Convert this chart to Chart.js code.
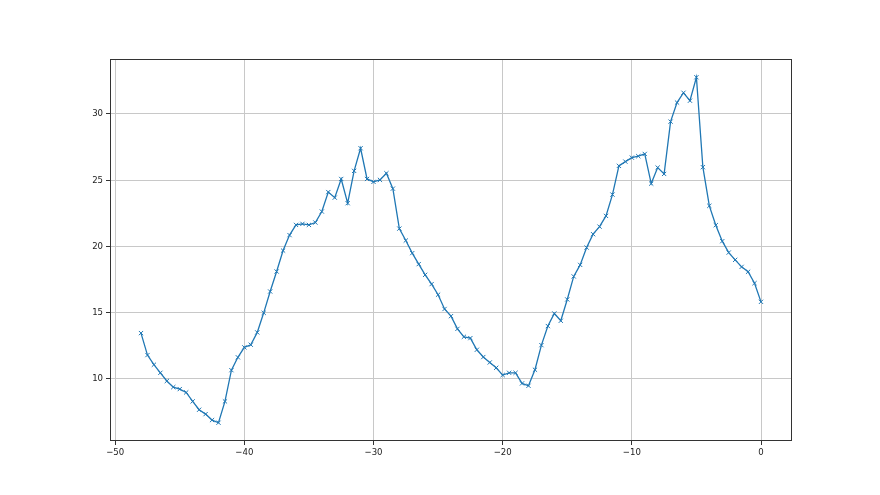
<!DOCTYPE html>
<html>
<head>
<meta charset="utf-8">
<script src="https://cdn.jsdelivr.net/npm/chart.js@4"></script>
<style>
  html, body { margin: 0; padding: 0; background: #fff; }
  #wrap { width: 880px; height: 495px; }
</style>
</head>
<body>
<div id="wrap"><canvas id="graphic" width="880" height="495"></canvas></div>
<script>
const xs = [
  -48, -47.5, -47, -46.5, -46, -45.5, -45, -44.5, -44, -43.5,
  -43, -42.5, -42, -41.5, -41, -40.5, -40, -39.5, -39, -38.5,
  -38, -37.5, -37, -36.5, -36, -35.5, -35, -34.5, -34, -33.5,
  -33, -32.5, -32, -31.5, -31, -30.5, -30, -29.5, -29, -28.5,
  -28, -27.5, -27, -26.5, -26, -25.5, -25, -24.5, -24, -23.5,
  -23, -22.5, -22, -21.5, -21, -20.5, -20, -19.5, -19, -18.5,
  -18, -17.5, -17, -16.5, -16, -15.5, -15, -14.5, -14, -13.5,
  -13, -12.5, -12, -11.5, -11, -10.5, -10, -9.5, -9, -8.5,
  -8, -7.5, -7, -6.5, -6, -5.5, -5, -4.5, -4, -3.5,
  -3, -2.5, -2, -1.5, -1, -0.5, 0
];
const values = [
  13.45, 11.79, 11.06, 10.45, 9.83, 9.37, 9.22, 8.97, 8.29, 7.66,
  7.33, 6.88, 6.68, 8.29, 10.65, 11.62, 12.37, 12.57, 13.5, 14.98,
  16.59, 18.1, 19.68, 20.85, 21.62, 21.7, 21.62, 21.8, 22.63, 24.1,
  23.68, 25.09, 23.26, 25.7, 27.41, 25.09, 24.87, 25.02, 25.52, 24.36,
  21.34, 20.44, 19.49, 18.66, 17.85, 17.15, 16.35, 15.27, 14.73, 13.77,
  13.17, 13.07, 12.19, 11.64, 11.23, 10.83, 10.28, 10.45, 10.45, 9.65,
  9.47, 10.68, 12.54, 13.98, 14.93, 14.38, 15.99, 17.73, 18.6, 19.91,
  20.92, 21.49, 22.3, 23.91, 26.08, 26.4, 26.7, 26.81, 26.98, 24.74,
  25.95, 25.47, 29.42, 30.86, 31.6, 31.0, 32.77, 25.98, 23.06, 21.6,
  20.39, 19.53, 18.98, 18.45, 18.08, 17.22, 15.81
];
const xTicks = [-50, -40, -30, -20, -10, 0];
const yTicks = [10, 15, 20, 25, 30];

const points = xs.map((x, i) => ({ x: x, y: values[i] }));

// black frame around the plot area, like matplotlib spines
const frame = {
  id: "frame",
  afterDraw(chart) {
    const a = chart.chartArea;
    const ctx = chart.ctx;
    ctx.save();
    ctx.strokeStyle = "#333";
    ctx.lineWidth = 1;
    ctx.strokeRect(Math.round(a.left) + 0.5, Math.round(a.top) + 0.5,
      Math.round(a.right - a.left) - 1, Math.round(a.bottom - a.top) - 1);
    ctx.restore();
  },
};

const fmt = (v) => (v < 0 ? "\u2212" + Math.abs(v) : String(v));
const tickFont = { family: "'Liberation Sans Narrow', 'DejaVu Sans Condensed', sans-serif", size: 9.5 };

new Chart(document.getElementById("graphic"), {
  type: "line",
  data: {
    datasets: [
      {
        data: points,
        borderColor: "#1f77b4",
        backgroundColor: "#1f77b4",
        borderWidth: 1.3,
        pointStyle: "crossRot",
        pointRadius: 3,
        pointBorderWidth: 1,
        pointHoverRadius: 3,
        tension: 0,
        fill: false,
      },
    ],
  },
  options: {
    responsive: false,
    animation: false,
    layout: { padding: { left: 0, top: 59, right: 88, bottom: 0 } },
    plugins: {
      legend: { display: false },
      tooltip: { enabled: false },
    },
    scales: {
      x: {
        type: "linear",
        min: -50.4,
        max: 2.4,
        afterBuildTicks: (s) => { s.ticks = xTicks.map((v) => ({ value: v })); },
        afterFit: (s) => { s.height = 54; },
        grid: { color: "#c8c8c8", lineWidth: 1, tickColor: "#333", tickLength: 4 },
        border: { display: false },
        ticks: {
          color: "#222",
          font: tickFont,
          padding: 2,
          maxRotation: 0,
          callback: fmt,
        },
      },
      y: {
        type: "linear",
        min: 5.3,
        max: 34.15,
        afterBuildTicks: (s) => { s.ticks = yTicks.map((v) => ({ value: v })); },
        afterFit: (s) => { s.width = 110; },
        grid: { color: "#c8c8c8", lineWidth: 1, tickColor: "#333", tickLength: 4 },
        border: { display: false },
        ticks: {
          color: "#222",
          font: tickFont,
          padding: 3,
          callback: fmt,
        },
      },
    },
  },
  plugins: [frame],
});
</script>
</body>
</html>
